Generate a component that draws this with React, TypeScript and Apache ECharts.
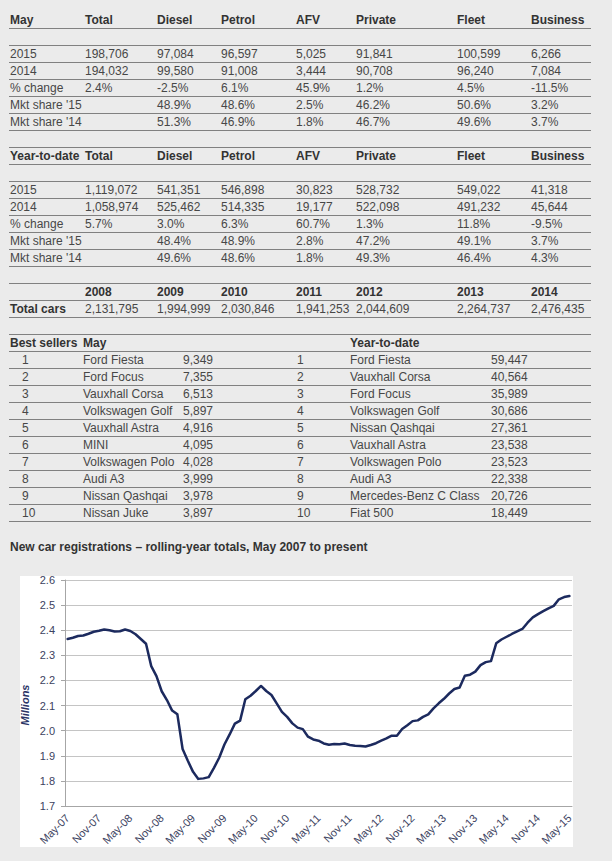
import React, { useEffect, useRef } from "react";
import * as echarts from "echarts";

// ---------- Table data ----------
const mayHead = ["May", "Total", "Diesel", "Petrol", "AFV", "Private", "Fleet", "Business"];
const may2015 = ["2015", "198,706", "97,084", "96,597", "5,025", "91,841", "100,599", "6,266"];
const may2014 = ["2014", "194,032", "99,580", "91,008", "3,444", "90,708", "96,240", "7,084"];
const mayChange = ["% change", "2.4%", "-2.5%", "6.1%", "45.9%", "1.2%", "4.5%", "-11.5%"];
const mayShare15 = ["Mkt share '15", "", "48.9%", "48.6%", "2.5%", "46.2%", "50.6%", "3.2%"];
const mayShare14 = ["Mkt share '14", "", "51.3%", "46.9%", "1.8%", "46.7%", "49.6%", "3.7%"];

const ytdHead = ["Year-to-date", "Total", "Diesel", "Petrol", "AFV", "Private", "Fleet", "Business"];
const ytd2015 = ["2015", "1,119,072", "541,351", "546,898", "30,823", "528,732", "549,022", "41,318"];
const ytd2014 = ["2014", "1,058,974", "525,462", "514,335", "19,177", "522,098", "491,232", "45,644"];
const ytdChange = ["% change", "5.7%", "3.0%", "6.3%", "60.7%", "1.3%", "11.8%", "-9.5%"];
const ytdShare15 = ["Mkt share '15", "", "48.4%", "48.9%", "2.8%", "47.2%", "49.1%", "3.7%"];
const ytdShare14 = ["Mkt share '14", "", "49.6%", "48.6%", "1.8%", "49.3%", "46.4%", "4.3%"];

const totalHead = ["", "2008", "2009", "2010", "2011", "2012", "2013", "2014"];
const totalCars = ["Total cars", "2,131,795", "1,994,999", "2,030,846", "1,941,253", "2,044,609", "2,264,737", "2,476,435"];

const bestRanks = ["1", "2", "3", "4", "5", "6", "7", "8", "9", "10"];
const bestMayModels = ["Ford Fiesta", "Ford Focus", "Vauxhall Corsa", "Volkswagen Golf", "Vauxhall Astra", "MINI", "Volkswagen Polo", "Audi A3", "Nissan Qashqai", "Nissan Juke"];
const bestMayUnits = ["9,349", "7,355", "6,513", "5,897", "4,916", "4,095", "4,028", "3,999", "3,978", "3,897"];
const bestYtdModels = ["Ford Fiesta", "Vauxhall Corsa", "Ford Focus", "Volkswagen Golf", "Nissan Qashqai", "Vauxhall Astra", "Volkswagen Polo", "Audi A3", "Mercedes-Benz C Class", "Fiat 500"];
const bestYtdUnits = ["59,447", "40,564", "35,989", "30,686", "27,361", "23,538", "23,523", "22,338", "20,726", "18,449"];

// ---------- Chart data ----------
const chartTitle = "New car registrations \u2013 rolling-year totals, May 2007 to present";
const monthNames = ["Jan", "Feb", "Mar", "Apr", "May", "Jun", "Jul", "Aug", "Sep", "Oct", "Nov", "Dec"];
const months: string[] = [];
for (let k = 0; k < 97; k++) {
  const m = (4 + k) % 12;
  const y = 7 + Math.floor((4 + k) / 12);
  months.push(monthNames[m] + "-" + (y < 10 ? "0" + y : String(y)));
}
const rollingTotals = [
  2.365, 2.370, 2.377, 2.379, 2.386, 2.394, 2.398, 2.403, 2.400, 2.395, 2.396, 2.403,
  2.397, 2.384, 2.365, 2.346, 2.257, 2.217, 2.157, 2.122, 2.080, 2.065, 1.927, 1.880,
  1.836, 1.808, 1.810, 1.815, 1.852, 1.892, 1.945, 1.985, 2.028, 2.040, 2.125, 2.139,
  2.158, 2.178, 2.158, 2.142, 2.109, 2.075, 2.055, 2.029, 2.012, 2.006, 1.976, 1.965,
  1.960, 1.949, 1.944, 1.947, 1.946, 1.949, 1.943, 1.940, 1.939, 1.937, 1.943, 1.950,
  1.960, 1.969, 1.980, 1.980, 2.007, 2.022, 2.038, 2.041, 2.055, 2.065, 2.089, 2.109,
  2.127, 2.148, 2.166, 2.172, 2.219, 2.223, 2.235, 2.261, 2.273, 2.277, 2.348, 2.363,
  2.374, 2.385, 2.395, 2.405, 2.430, 2.451, 2.464, 2.476, 2.487, 2.497, 2.523, 2.532,
  2.536,
];

const FONT = "'Liberation Sans', Arial, Helvetica, sans-serif";
const BG = "#ebebeb";
const colX = [10, 85, 157, 221, 296, 356, 457, 531];

function txt(x: number, y: number, s: string, bold = false): any {
  return {
    type: "text",
    x,
    y,
    silent: true,
    style: {
      text: s,
      fontFamily: FONT,
      fontSize: 12,
      fontWeight: bold ? "bold" : "normal",
      fill: bold ? "#333333" : "#474747",
      align: "left",
      verticalAlign: "middle",
    },
  };
}

function hline(y: number): any {
  return {
    type: "line",
    silent: true,
    shape: { x1: 9, y1: y, x2: 591, y2: y },
    style: { stroke: "#808080", lineWidth: 1 },
  };
}

function rowAt(cells: string[], y: number, bold = false): any[] {
  const out: any[] = [];
  cells.forEach((c, i) => {
    if (c !== "") out.push(txt(colX[i], y, c, bold));
  });
  return out;
}

function buildGraphics(): any[] {
  const g: any[] = [];
  // white plot panel
  g.push({
    type: "rect",
    z: -10,
    silent: true,
    shape: { x: 20, y: 576, width: 553, height: 271 },
    style: { fill: "#ffffff" },
  });

  // Table 1 - May
  g.push(...rowAt(mayHead, 20, true));
  [28.5, 45.5, 62.5, 79.5, 96.5, 113.5, 130.5].forEach((y) => g.push(hline(y)));
  [may2015, may2014, mayChange, mayShare15, mayShare14].forEach((r, k) => g.push(...rowAt(r, 54 + 17 * k)));

  // Table 2 - YTD
  g.push(hline(147.5));
  g.push(...rowAt(ytdHead, 156, true));
  [164.5, 181.5, 198.5, 215.5, 232.5, 249.5, 266.5].forEach((y) => g.push(hline(y)));
  [ytd2015, ytd2014, ytdChange, ytdShare15, ytdShare14].forEach((r, k) => g.push(...rowAt(r, 190 + 17 * k)));

  // Table 3 - totals
  g.push(hline(283.5));
  g.push(...rowAt(totalHead, 292, true));
  g.push(hline(300.5));
  const tc = rowAt(totalCars, 309);
  tc[0].style.fontWeight = "bold";
  tc[0].style.fill = "#333333";
  g.push(...tc);
  g.push(hline(317.5));

  // Best sellers
  g.push(hline(334.5));
  g.push(txt(10, 343, "Best sellers", true));
  g.push(txt(83, 343, "May", true));
  g.push(txt(350, 343, "Year-to-date", true));
  g.push(hline(351.5));
  bestRanks.forEach((r, k) => {
    const y = 360 + 17 * k;
    g.push(txt(22, y, r));
    g.push(txt(83, y, bestMayModels[k]));
    g.push(txt(183, y, bestMayUnits[k]));
    g.push(txt(297, y, r));
    g.push(txt(350, y, bestYtdModels[k]));
    g.push(txt(491, y, bestYtdUnits[k]));
    g.push(hline(368.5 + 17 * k));
  });

  // Chart title
  g.push(txt(10, 547, chartTitle, true));

  // Y axis title
  g.push({
    type: "text",
    x: 25,
    y: 705,
    rotation: Math.PI / 2,
    silent: true,
    style: {
      text: "Millions",
      fontFamily: FONT,
      fontSize: 11,
      fontWeight: "bold",
      fontStyle: "italic",
      fill: "#2b3566",
      align: "center",
      verticalAlign: "middle",
    },
  });
  return g;
}

export default function App() {
  const ref = useRef<HTMLDivElement>(null);
  useEffect(() => {
    if (!ref.current) return;
    const chart = echarts.init(ref.current, undefined, { renderer: "svg" });
    chart.setOption({
      animation: false,
      backgroundColor: BG,
      grid: { left: 65, top: 580, width: 507, height: 226, containLabel: false },
      xAxis: {
        type: "category",
        data: months,
        boundaryGap: true,
        axisLine: { lineStyle: { color: "#a6a6a6", width: 1 } },
        axisTick: { interval: 5, length: 4, lineStyle: { color: "#a6a6a6" } },
        axisLabel: {
          interval: 5,
          rotate: 45,
          margin: 10,
          fontFamily: FONT,
          fontSize: 11,
          color: "#3c4260",
        },
        splitLine: { show: false },
      },
      yAxis: {
        type: "value",
        min: 1.7,
        max: 2.6,
        interval: 0.1,
        axisLine: { show: true, lineStyle: { color: "#a6a6a6", width: 1 } },
        axisTick: { show: true, length: 4, lineStyle: { color: "#a6a6a6" } },
        axisLabel: {
          margin: 10,
          fontFamily: FONT,
          fontSize: 11,
          color: "#3c4260",
          formatter: (v: number) => v.toFixed(1),
        },
        splitLine: { show: true, lineStyle: { color: "#c4c4c4", width: 1 } },
      },
      series: [
        {
          type: "line",
          data: rollingTotals,
          showSymbol: false,
          symbol: "none",
          lineStyle: { color: "#1c2a5e", width: 2.5, join: "round", cap: "round" },
          z: 3,
        },
      ],
      graphic: buildGraphics(),
    });
    return () => chart.dispose();
  }, []);
  return (
    <div
      ref={ref}
      style={{ position: "absolute", left: 0, top: 0, width: 612, height: 861, background: BG }}
    />
  );
}
